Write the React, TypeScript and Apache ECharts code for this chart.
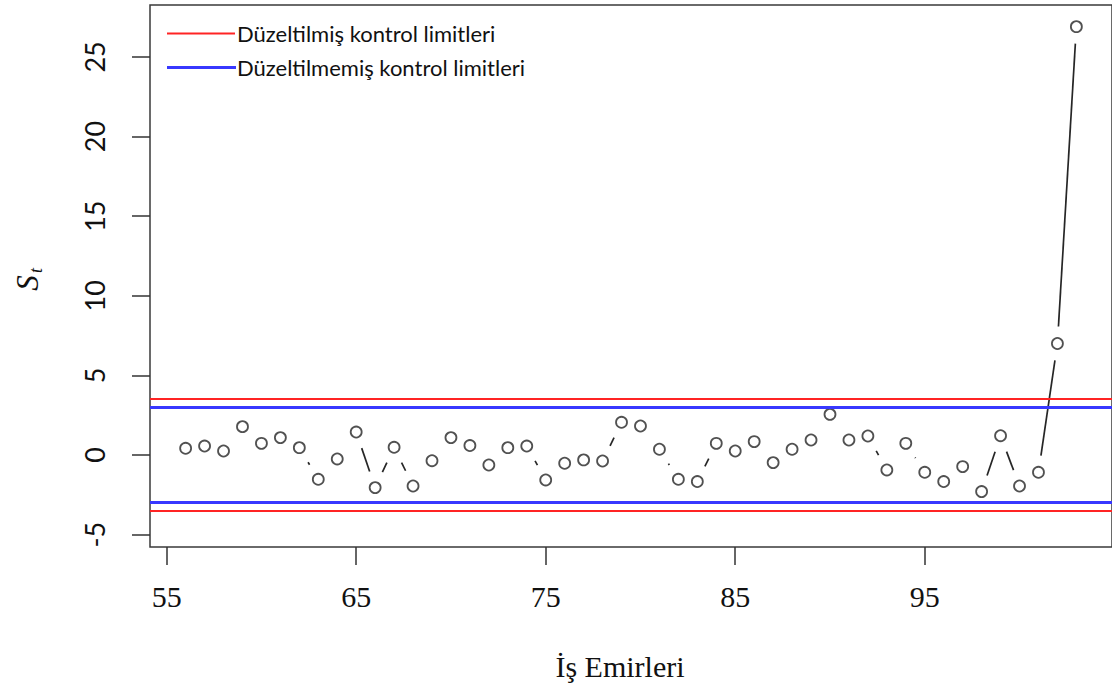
import { useEffect, useRef } from "react";
import * as echarts from "echarts";

// Work order numbers (x) and the S_t statistic (y)
const orders = [
  56, 57, 58, 59, 60, 61, 62, 63, 64, 65, 66, 67, 68, 69, 70, 71, 72, 73, 74, 75,
  76, 77, 78, 79, 80, 81, 82, 83, 84, 85, 86, 87, 88, 89, 90, 91, 92, 93, 94, 95,
  96, 97, 98, 99, 100, 101, 102, 103,
];
const stValues = [
  0.42, 0.56, 0.25, 1.78, 0.73, 1.09, 0.46, -1.53, -0.25, 1.44,
  -2.05, 0.48, -1.95, -0.36, 1.09, 0.59, -0.63, 0.46, 0.56, -1.57,
  -0.52, -0.31, -0.38, 2.05, 1.82, 0.36, -1.53, -1.67, 0.73, 0.25,
  0.84, -0.48, 0.36, 0.94, 2.55, 0.94, 1.19, -0.94, 0.73, -1.09,
  -1.67, -0.73, -2.3, 1.21, -1.95, -1.09, 7.0, 26.9,
];
const correctedLimits = [3.5, -3.5];
const uncorrectedLimits = [3, -3];
const xTicks = [55, 65, 75, 85, 95];
const yTicks = [-5, 0, 5, 10, 15, 20, 25];
const legendNames = ["Düzeltilmiş kontrol limitleri", "Düzeltilmemiş kontrol limitleri"];
const xTitle = "İş Emirleri";

const RED = "#ff2424";
const BLUE = "#3838ff";
const INK = "#262626";

export default function App() {
  const ref = useRef<HTMLDivElement>(null);
  useEffect(() => {
    if (!ref.current) return;
    const chart = echarts.init(ref.current, null, { renderer: "svg" });
    const points = orders.map((x, i) => [x, stValues[i]]);
    const segments = orders.slice(0, -1).map((x, i) => [x, stValues[i], orders[i + 1], stValues[i + 1]]);
    const GAP = 17;
    chart.setOption({
      animation: false,
      grid: {
        left: 150,
        top: 5,
        width: 964.6,
        height: 542,
        show: true,
        borderColor: "#3a3a3a",
        borderWidth: 1.5,
        backgroundColor: "transparent",
      },
      xAxis: {
        type: "value",
        min: 54.12,
        max: 104.88,
        axisLine: { show: false, onZero: false },
        splitLine: { show: false },
        axisTick: { show: true, length: 18, customValues: xTicks, lineStyle: { color: "#333", width: 1.5 } },
        axisLabel: { customValues: xTicks, margin: 34, fontFamily: "Liberation Serif", fontSize: 30, color: "#111" },
      },
      yAxis: {
        type: "value",
        min: -5.78,
        max: 28.26,
        axisLine: { show: false, onZero: false },
        splitLine: { show: false },
        axisTick: { show: true, length: 18, customValues: yTicks, lineStyle: { color: "#333", width: 1.5 } },
        axisLabel: { customValues: yTicks, rotate: 90, margin: 42, fontFamily: "Lato", fontSize: 27, color: "#111" },
      },
      series: [
        {
          name: legendNames[0],
          type: "line",
          data: [],
          markLine: {
            silent: true,
            symbol: ["none", "none"],
            label: { show: false },
            lineStyle: { color: RED, width: 2, type: "solid" },
            data: correctedLimits.map((v) => ({ yAxis: v })),
          },
        },
        {
          name: legendNames[1],
          type: "line",
          data: [],
          markLine: {
            silent: true,
            symbol: ["none", "none"],
            label: { show: false },
            lineStyle: { color: BLUE, width: 3, type: "solid" },
            data: uncorrectedLimits.map((v) => ({ yAxis: v })),
          },
        },
        {
          type: "custom",
          silent: true,
          data: segments,
          encode: { x: [0, 2], y: [1, 3] },
          renderItem: (params: any, api: any) => {
            const p1 = api.coord([api.value(0), api.value(1)]);
            const p2 = api.coord([api.value(2), api.value(3)]);
            const dx = p2[0] - p1[0];
            const dy = p2[1] - p1[1];
            const d = Math.hypot(dx, dy);
            if (d <= 2 * GAP) return { type: "group", children: [] };
            const ux = dx / d;
            const uy = dy / d;
            return {
              type: "line",
              shape: {
                x1: p1[0] + ux * GAP,
                y1: p1[1] + uy * GAP,
                x2: p2[0] - ux * GAP,
                y2: p2[1] - uy * GAP,
              },
              style: { stroke: INK, lineWidth: 1.7 },
            };
          },
        },
        {
          type: "scatter",
          data: points,
          symbol: "circle",
          symbolSize: 11,
          itemStyle: { color: "rgba(0,0,0,0)", borderColor: INK, borderWidth: 1.8 },
        },
      ],
      graphic: [
        { type: "line", shape: { x1: 167, y1: 33.5, x2: 235, y2: 33.5 }, style: { stroke: RED, lineWidth: 2 } },
        { type: "line", shape: { x1: 167, y1: 67.5, x2: 236, y2: 67.5 }, style: { stroke: BLUE, lineWidth: 3 } },
        {
          type: "text",
          x: 237,
          y: 33.5,
          style: { text: legendNames[0], fontFamily: "Lato", fontSize: 22, fill: "#111", verticalAlign: "middle", align: "left" },
        },
        {
          type: "text",
          x: 237,
          y: 67.5,
          style: { text: legendNames[1], fontFamily: "Lato", fontSize: 22, fill: "#111", verticalAlign: "middle", align: "left" },
        },
        {
          type: "text",
          x: 620,
          y: 666,
          style: { text: xTitle, fontFamily: "Liberation Serif", fontSize: 30, fill: "#111", align: "center", verticalAlign: "middle" },
        },
        {
          type: "group",
          x: 27,
          y: 283,
          rotation: Math.PI / 2,
          children: [
            {
              type: "text",
              x: 0,
              y: 0,
              style: { text: "S", fontFamily: "Liberation Serif", fontStyle: "italic", fontSize: 31, fill: "#111", align: "center", verticalAlign: "middle" },
            },
            {
              type: "text",
              x: 10,
              y: 9,
              style: { text: "t", fontFamily: "Liberation Serif", fontStyle: "italic", fontSize: 18, fill: "#111", align: "left", verticalAlign: "middle" },
            },
          ],
        },
      ],
    });
    return () => chart.dispose();
  }, []);
  return <div ref={ref} style={{ position: "absolute", left: 0, top: 0, width: 1112, height: 688 }} />;
}
